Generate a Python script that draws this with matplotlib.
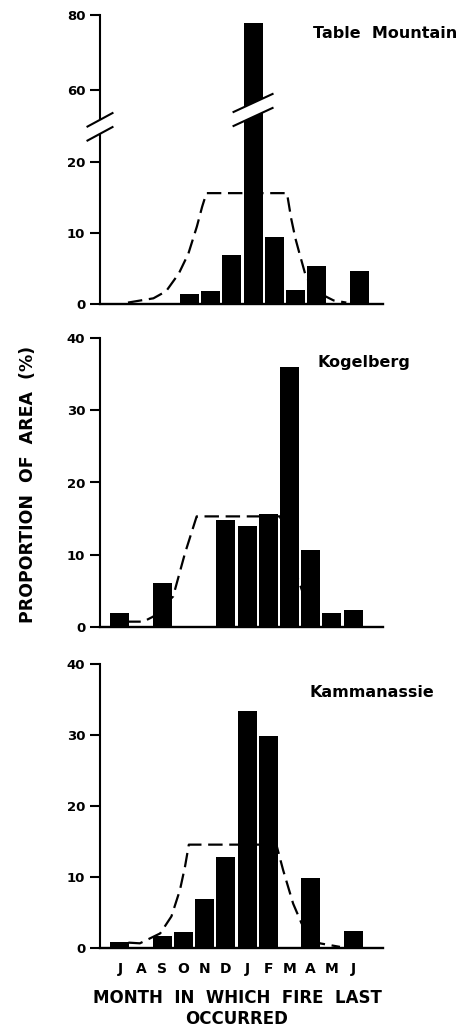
import numpy as np
import matplotlib
matplotlib.use('Agg')
import matplotlib.pyplot as plt
from matplotlib.patches import Polygon
from matplotlib.lines import Line2D
from matplotlib.transforms import IdentityTransform

plt.rcParams['font.family'] = ['DejaVu Sans']
plt.rcParams['font.weight'] = 'bold'

# months from July to June
months = ['J', 'A', 'S', 'O', 'N', 'D', 'J', 'F', 'M', 'A', 'M', 'J']

# proportion of area (%) by month in which fire last occurred
table_mountain = [0, 0, 0, 1.4, 1.8, 6.9, 78, 9.4, 2.0, 5.4, 0, 4.6]
kogelberg = [1.9, 0, 6.0, 0, 0, 14.8, 13.9, 15.6, 36.0, 10.7, 1.9, 2.3]
kammanassie = [0.85, 0, 1.7, 2.3, 6.9, 12.9, 33.4, 29.9, 0, 9.9, 0, 2.4]

# dashed curves (month position, %)
tm_curve_x = [0.1, 1.3, 1.9, 2.5, 2.95, 3.35, 3.6, 3.8, 7.6, 7.8, 8.0, 8.2, 8.5, 9.0, 9.8, 10.4]
tm_curve_y = [0.2, 0.8, 1.8, 4.3, 7.1, 10.9, 13.7, 15.6, 15.6, 12.0, 9.2, 7.0, 3.8, 1.7, 0.5, 0.2]
kg_curve_x = [0.3, 1.1, 1.57, 2.51, 3.07, 3.62, 7.55, 7.9, 8.3, 8.65, 9.2]
kg_curve_y = [0.7, 0.7, 1.4, 4.2, 10.2, 15.3, 15.3, 12.0, 7.5, 4.5, 1.5]
km_curve_x = [0.4, 0.94, 1.9, 2.43, 2.83, 3.07, 3.25, 7.38, 7.7, 8.17, 8.57, 9.43, 10.38]
km_curve_y = [0.8, 0.7, 2.1, 4.5, 8.2, 11.5, 14.6, 14.6, 11.0, 6.3, 3.5, 0.7, 0.2]

W, H = 472, 1027


def box(left, top, right, bottom):
    # pixel box -> figure fraction rect
    return [left / W, 1 - bottom / H, (right - left) / W, (bottom - top) / H]


def style(ax, ticks):
    for s in ('top', 'right'):
        ax.spines[s].set_visible(False)
    ax.spines['left'].set_linewidth(1.5)
    ax.spines['bottom'].set_linewidth(1.7)
    ax.set_yticks(ticks)
    ax.tick_params(axis='y', length=7, width=1.5, pad=3.5, labelsize=9.5)
    ax.tick_params(axis='x', length=0, pad=10, labelsize=10)
    ax.set_xticks(np.arange(len(months)))
    ax.set_xticklabels([])


def panel(ax, values, cx, cy, name, name_x, name_y):
    x = np.arange(len(months))
    ax.plot(cx, cy, color='black', lw=1.6, dashes=(6.5, 3), zorder=1)
    ax.bar(x, values, width=0.9, color='black', zorder=2)
    ax.text(name_x, name_y, name, transform=ax.transAxes, fontsize=11.5,
            ha='left', va='baseline')


def slash(ax, x, y, half_w, gap, rise):
    # white band between two parallel slashes, sized in pixels
    cx, cy = ax.transData.transform((x, y))
    lo = [(cx - half_w, cy - gap / 2 - rise / 2), (cx + half_w, cy - gap / 2 + rise / 2)]
    hi = [(px, py + gap) for px, py in lo]
    fig = ax.figure
    fig.add_artist(Polygon(lo + hi[::-1], closed=True, facecolor='white',
                           edgecolor='none', transform=IdentityTransform(), zorder=5))
    for seg in (lo, hi):
        fig.add_artist(Line2D([p[0] for p in seg], [p[1] for p in seg], color='black',
                              lw=1.5, transform=IdentityTransform(), zorder=6))


# broken axis for the top panel: 0-23.5 normal, 52.8-80 compressed
knots_v = [-100, 0, 23.5, 52.8, 200]
knots_u = [-100, 0, 23.5, 26.3, 26.3 + 147.2 * 3.75 / 7.1]


def fwd(v):
    return np.interp(v, knots_v, knots_u)


def inv(u):
    return np.interp(u, knots_u, knots_v)


fig = plt.figure(figsize=(W / 100, H / 100), dpi=100)

ax1 = fig.add_axes(box(100, 15, 383, 304))
ax2 = fig.add_axes(box(100, 338.3, 383, 626.7))
ax3 = fig.add_axes(box(100, 664.3, 383, 948.3))

ax1.set_yscale('function', functions=(fwd, inv))
panel(ax1, table_mountain, tm_curve_x, tm_curve_y, 'Table  Mountain', 0.753, 0.92)
style(ax1, [0, 10, 20, 60, 80])
ax1.set_ylim(0, 80)
ax1.set_xlim(-1.22, 12.13)

panel(ax2, kogelberg, kg_curve_x, kg_curve_y, 'Kogelberg', 0.77, 0.9015)
style(ax2, [0, 10, 20, 30, 40])
ax2.set_ylim(0, 40)
ax2.set_xlim(-0.94, 12.41)

panel(ax3, kammanassie, km_curve_x, km_curve_y, 'Kammanassie', 0.742, 0.886)
style(ax3, [0, 10, 20, 30, 40])
ax3.set_ylim(0, 40)
ax3.set_xlim(-0.94, 12.41)
ax3.set_xticklabels(months)

# break marks on the y axis and on the tall bar
slash(ax1, -1.22, 38.5, 12.5, 14, 13.5)
slash(ax1, 6, 54.7, 19.5, 14, 18)

fig.text(28 / W, 1 - 484 / H, 'PROPORTION  OF  AREA  (%)', rotation=90,
         ha='center', va='center', fontsize=12.5)
fig.text(237 / W, 1 - 989 / H, 'MONTH  IN  WHICH  FIRE  LAST\nOCCURRED',
         ha='center', va='top', fontsize=12, linespacing=1.25)

fig.savefig('out.png', dpi=100)
